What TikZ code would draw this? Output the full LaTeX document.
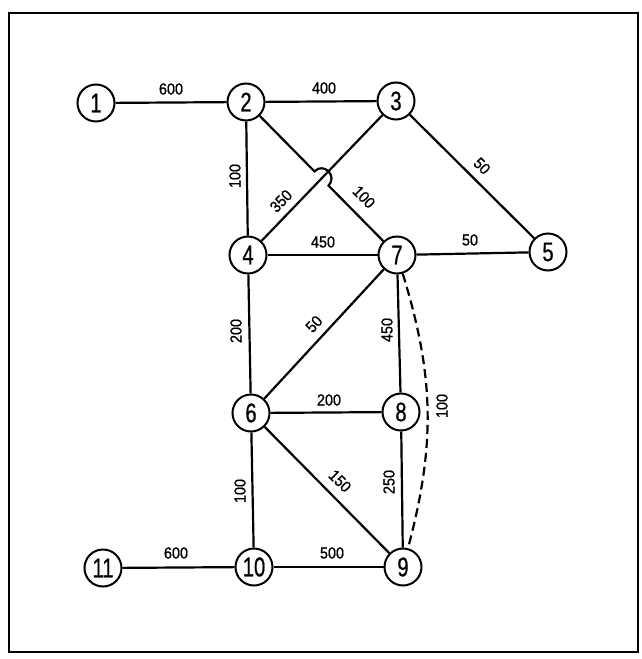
\documentclass[tikz,border=0pt]{standalone}
\usepackage{fontspec}
\newfontfamily\nodefont[FakeStretch=0.75,FakeBold=0.6]{Liberation Sans}
\newfontfamily\labfont[FakeStretch=0.9,FakeBold=0.8]{Liberation Sans}
\usetikzlibrary{calc}
\begin{document}
\begin{tikzpicture}[x=1pt,y=-1pt,
  vertex/.style={circle,draw,line width=2pt,minimum size=37pt,inner sep=0pt,font=\nodefont\fontsize{27}{27}\selectfont},
  edge/.style={line width=2.2pt},
  wlab/.style={inner sep=0pt,font=\labfont\fontsize{16}{16}\selectfont},
  dashedge/.style={line width=2.2pt,dash pattern=on 9pt off 5pt}]
\useasboundingbox (0,0) rectangle (642,659);
\draw[line width=2.4pt] (9,13) rectangle (638,652);
% nodes
\node[vertex] (n1) at (96,103) {1};
\node[vertex] (n2) at (246,102) {2};
\node[vertex] (n3) at (396,101) {3};
\node[vertex] (n4) at (248,255) {4};
\node[vertex] (n7) at (397,255) {7};
\node[vertex] (n5) at (548,252) {5};
\node[vertex] (n6) at (251,413) {6};
\node[vertex] (n8) at (401,412) {8};
\node[vertex] (n9) at (403,567) {9};
\node[vertex] (n10) at (254,567) {10};
\node[vertex] (n11) at (103,568) {11};
% edges
\draw[edge] (n1) -- (n2);
\draw[edge] (n2) -- (n3);
\draw[edge] (n2) -- (n4);
\draw[edge] (n4) -- (n3);
\draw[edge] (n3) -- (n5);
\draw[edge] (n4) -- (n7);
\draw[edge] (n7) -- (n5);
\draw[edge] (n4) -- (n6);
\draw[edge] (n6) -- (n7);
\draw[edge] (n7) -- (n8);
\draw[edge] (n6) -- (n8);
\draw[edge] (n6) -- (n9);
\draw[edge] (n8) -- (n9);
\draw[edge] (n6) -- (n10);
\draw[edge] (n11) -- (n10);
\draw[edge] (n10) -- (n9);
\draw[dashedge] (n7) to[bend left=16] (n9);
% edge 2-7 with a hop over edge 4-3
\coordinate (X) at (intersection of n2--n7 and n4--n3);
\coordinate (hA) at ($(X)!10pt!(n2)$);
\coordinate (hB) at ($(X)!10pt!(n7)$);
\coordinate (hU) at ($(X)!13.3pt!(n3)$);
\coordinate (hC1) at ($(hA)+(hU)-(X)$);
\coordinate (hC2) at ($(hB)+(hU)-(X)$);
\draw[edge] (n2) -- (hA) .. controls (hC1) and (hC2) .. (hB) -- (n7);
% weights
\node[wlab] (w12) at (171,89) {600};
\node[wlab] (w23) at (324,88) {400};
\node[wlab,rotate=90] (w24) at (235,176) {100};
\node[wlab,rotate=46] (w43) at (281,201) {350};
\node[wlab,rotate=-46] (w27) at (364,197) {100};
\node[wlab,rotate=-45] (w35) at (482,166) {50};
\node[wlab] (w47) at (323,242) {450};
\node[wlab] (w75) at (470,240) {50};
\node[wlab,rotate=90] (w46) at (236,331) {200};
\node[wlab,rotate=47] (w67) at (314,324) {50};
\node[wlab,rotate=90] (w78) at (387,330) {450};
\node[wlab,rotate=90] (w79) at (442,406) {100};
\node[wlab] (w68) at (329,400) {200};
\node[wlab,rotate=-45] (w69) at (340,481) {150};
\node[wlab,rotate=90] (w89) at (389,482) {250};
\node[wlab,rotate=90] (w610) at (240,491) {100};
\node[wlab] (w1110) at (176,553) {600};
\node[wlab] (w109) at (332,553) {500};
\end{tikzpicture}
\end{document}
